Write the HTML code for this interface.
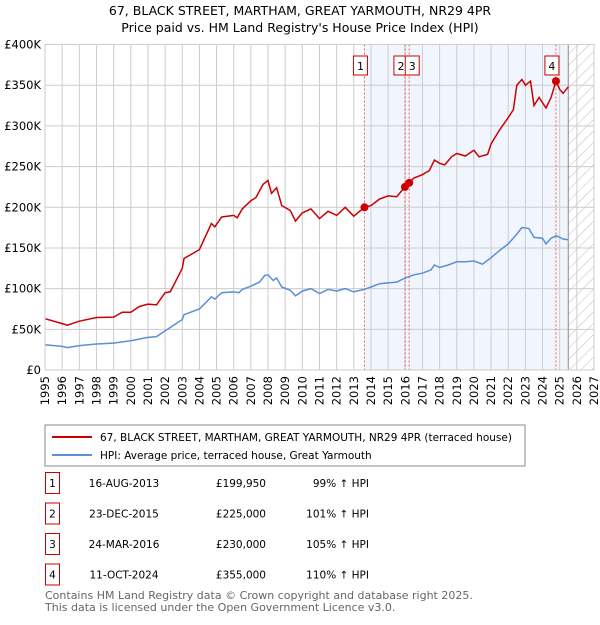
<!DOCTYPE html>
<html><head><meta charset="utf-8"><style>
body{margin:0;background:#fff;font-family:"Liberation Sans","DejaVu Sans",sans-serif}
svg text{font-family:"DejaVu Sans","Liberation Sans",sans-serif}
</style></head><body>
<svg id="c" width="600" height="620" xmlns="http://www.w3.org/2000/svg">
<defs><pattern id="h" width="8" height="8" patternUnits="userSpaceOnUse" patternTransform="rotate(45)"><line x1="0" y1="0" x2="0" y2="8" stroke="#bbb" stroke-width="1"/></pattern></defs>
<text x="300" y="15" text-anchor="middle" font-size="12.5">67, BLACK STREET, MARTHAM, GREAT YARMOUTH, NR29 4PR</text>
<text x="300" y="32" text-anchor="middle" font-size="12.5">Price paid vs. HM Land Registry's House Price Index (HPI)</text>
<g id="plot"></g>
<rect x="45" y="425" width="480" height="41" fill="#fff" stroke="#888"/>
<line x1="52" y1="437" x2="92" y2="437" stroke="#cc0000" stroke-width="2"/>
<text x="100" y="441" font-size="10.5">67, BLACK STREET, MARTHAM, GREAT YARMOUTH, NR29 4PR (terraced house)</text>
<line x1="52" y1="455" x2="92" y2="455" stroke="#5b8fd6" stroke-width="2"/>
<text x="100" y="459" font-size="10.5">HPI: Average price, terraced house, Great Yarmouth</text>
<g id="tbl" font-size="10.5"></g>
<text x="45" y="599" font-size="11" fill="#666">Contains HM Land Registry data © Crown copyright and database right 2025.</text>
<text x="45" y="611" font-size="11" fill="#666">This data is licensed under the Open Government Licence v3.0.</text>
</svg>
<script>
const hpiYears=[1995,1996,1996.3,1997,1998,1999,2000,2001,2001.5,2002,2003,2003.1,2004,2004.7,2004.9,2005.3,2006,2006.3,2006.5,2007,2007.5,2007.8,2008,2008.3,2008.5,2008.8,2009.3,2009.6,2010,2010.5,2011,2011.5,2012,2012.5,2013,2013.6,2014,2014.5,2015,2015.5,2016,2016.5,2017,2017.5,2017.7,2018,2018.5,2019,2019.5,2020,2020.5,2021,2021.5,2022,2022.5,2022.8,2023.2,2023.5,2024,2024.2,2024.5,2024.8,2025.2,2025.5];
const hpiValues=[31,29,27.5,30,32,33,36,40,41,48,62,68,75,90,87,95,96,95,99,103,108,116,117,110,113,102,98,91,97,100,94,99,97,100,96,99,102,106,107,108,113,117,119,123,129,126,129,133,133,134,130,138,147,155,167,175,174,163,162,155,162,165,161,160];
const redYears=[1995,1996,1996.3,1997,1998,1999,1999.5,2000,2000.5,2001,2001.5,2002,2002.3,2003,2003.1,2004,2004.7,2004.9,2005.3,2006,2006.2,2006.5,2007,2007.3,2007.7,2008,2008.2,2008.5,2008.8,2009.3,2009.6,2010,2010.5,2011,2011.5,2012,2012.5,2013,2013.62,2014,2014.5,2015,2015.5,2015.98,2016.23,2016.5,2017,2017.4,2017.7,2018,2018.3,2018.7,2019,2019.5,2020,2020.3,2020.8,2021,2021.5,2022,2022.3,2022.5,2022.8,2023,2023.3,2023.5,2023.8,2024.2,2024.5,2024.78,2025,2025.2,2025.5];
const redValues=[63,57,55,60,64.5,65,71,71,78,81,80,95,96,125,137,148,180,176,188,190,187,198,208,212,228,233,217,224,202,196,183,193,198,186,195,190,200,189,199.95,202,210,214,213,225,230,236,240,245,258,254,252,262,266,263,270,262,265,278,295,310,320,350,357,350,355,325,335,322,335,355,345,340,348];
const saleLabels=["1","2","3","4"];
const saleYears=[2013.62,2015.98,2016.23,2024.78];
const salePrices=[199.95,225,230,355];
const saleDates=["16-AUG-2013","23-DEC-2015","24-MAR-2016","11-OCT-2024"];
const salePriceText=["£199,950","£225,000","£230,000","£355,000"];
const salePct=["99% ↑ HPI","101% ↑ HPI","105% ↑ HPI","110% ↑ HPI"];
const yTicks=[0,50,100,150,200,250,300,350,400];
const yTickLabels=["£0","£50K","£100K","£150K","£200K","£250K","£300K","£350K","£400K"];
const xTicks=[1995,1996,1997,1998,1999,2000,2001,2002,2003,2004,2005,2006,2007,2008,2009,2010,2011,2012,2013,2014,2015,2016,2017,2018,2019,2020,2021,2022,2023,2024,2025,2026,2027];
const dataEnd=2025.5;
const X0=45,X1=594,Y0=370,Y1=44.5;
const xs=y=>X0+(y-1995)/(2027-1995)*(X1-X0);
const ys=v=>Y0-v/400*(Y0-Y1);
const NS="http://www.w3.org/2000/svg";
const g=document.getElementById('plot');
function mk(t,a,p){const e=document.createElementNS(NS,t);for(const k in a)e.setAttribute(k,a[k]);(p||g).appendChild(e);return e;}
let e=mk('rect',{x:X0,y:Y1,width:X1-X0,height:Y0-Y1,fill:'#fff'});


e=mk('rect',{x:xs(saleYears[0]),y:Y1,width:xs(dataEnd)-xs(saleYears[0]),height:Y0-Y1,fill:'#eef3fc',opacity:0.8});


e=mk('rect',{x:xs(dataEnd),y:Y1,width:X1-xs(dataEnd),height:Y0-Y1,fill:'url(#h)'});


yTicks.forEach((v,i)=>{
 let l=mk('line',{x1:X0,x2:X1,y1:ys(v),y2:ys(v),stroke:'#ccc'});
 
 
 let t=mk('text',{x:X0-4,y:ys(v)+4,'text-anchor':'end','font-size':'11.5'});t.textContent=yTickLabels[i];
 
 
});
xTicks.forEach(y=>{
 let l=mk('line',{x1:xs(y),x2:xs(y),y1:Y1,y2:Y0,stroke:'#ccc'});
 
 
 let t=mk('text',{x:0,y:0,'text-anchor':'end','font-size':'11.5',transform:`translate(${xs(y)+4},${Y0+6}) rotate(-90)`});t.textContent=y;
 
 
});
e=mk('line',{x1:xs(dataEnd),x2:xs(dataEnd),y1:Y1,y2:Y0,stroke:'#888'});


saleYears.forEach(y=>{
 let l=mk('line',{x1:xs(y),x2:xs(y),y1:Y1,y2:Y0,stroke:'#f06060','stroke-dasharray':'2,2'});
 
 
});
function path(xa,va,col,name){
 let d=xa.map((x,i)=>(i?'L':'M')+xs(x).toFixed(1)+','+ys(va[i]).toFixed(1)).join('');
 let p=mk('path',{d:d,fill:'none',stroke:col,'stroke-width':1.5});
 
 
}
path(hpiYears,hpiValues,'#5b8fd6','hpi-line');
path(redYears,redValues,'#cc0000','property-price-line');
saleYears.forEach((y,i)=>{
 let c=mk('circle',{cx:xs(y),cy:ys(salePrices[i]),r:4,fill:'#cc0000'});
 
 
 let bx=xs(y)-(i==1?6:i==2?-4:3)-8;
 if(i==1)bx=xs(y)-11;
 let r=mk('rect',{x:i==2?xs(y)-4:bx,y:56,width:14,height:19,fill:'#fff',stroke:'#cc0000'});
 
 
 let t=mk('text',{x:(i==2?xs(y)-4:bx)+7,y:70,'text-anchor':'middle','font-size':'11'});t.textContent=saleLabels[i];
 
 
});
const tb=document.getElementById('tbl');
saleLabels.forEach((s,i)=>{
 const yy=483+i*30.5;
 let r=mk('rect',{x:45.5,y:yy-10.5,width:14,height:21,fill:'#fff',stroke:'#cc0000'},tb);
 
 
 let t=mk('text',{x:52.5,y:yy+4,'text-anchor':'middle'},tb);t.textContent=s;
 
 
 t=mk('text',{x:124,y:yy+4,'text-anchor':'middle'},tb);t.textContent=saleDates[i];
 
 
 t=mk('text',{x:266,y:yy+4,'text-anchor':'end'},tb);t.textContent=salePriceText[i];
 
 
 t=mk('text',{x:369,y:yy+4,'text-anchor':'end'},tb);t.textContent=salePct[i];
 
 
});
e=mk('rect',{x:X0,y:Y1,width:X1-X0,height:Y0-Y1,fill:'none',stroke:'#ccc'});


</script>
</body></html>
